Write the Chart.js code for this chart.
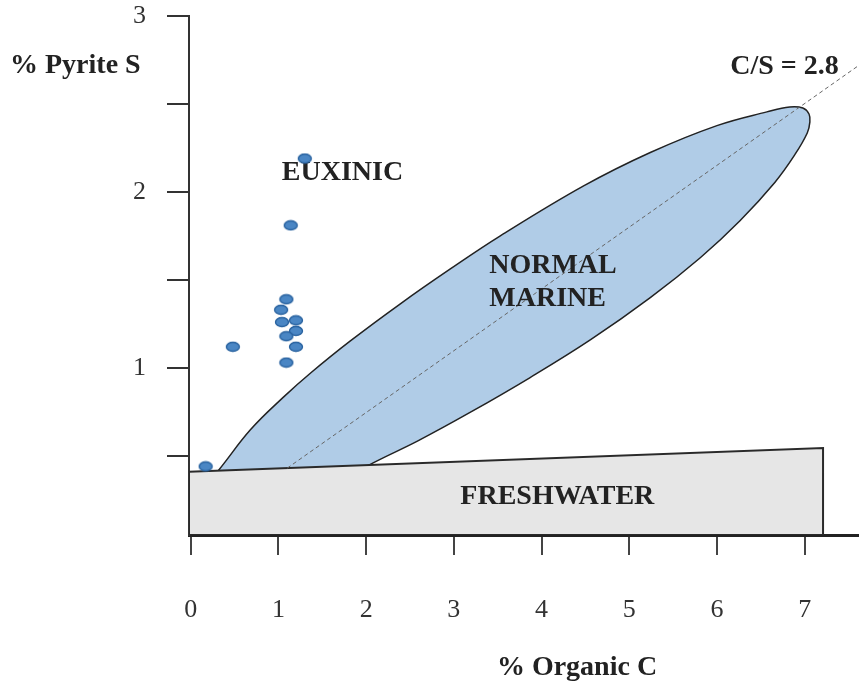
<!DOCTYPE html>
<html>
<head>
<meta charset="utf-8">
<script src="https://cdn.jsdelivr.net/npm/chart.js@4"></script>
<style>
html, body { margin: 0; padding: 0; background: #fff; }
#wrap { width: 859px; height: 694px; }
</style>
</head>
<body>
<div id="wrap"><canvas id="chart"></canvas></div>
<script>
// tick values and labels
var xTicks = [0, 1, 2, 3, 4, 5, 6, 7];
var yTicks = [0.5, 1, 1.5, 2, 2.5, 3];
var yLabels = ['', '1', '', '2', '', '3'];

// samples (% organic C, % pyrite S)
var sampleC = [1.30, 1.14, 1.09, 1.03, 1.04, 1.20, 1.20, 1.09, 1.20, 0.48, 1.09, 0.17];
var sampleS = [2.19, 1.81, 1.39, 1.33, 1.26, 1.27, 1.21, 1.18, 1.12, 1.12, 1.03, 0.44];

// normal marine field outline (lower part hidden under freshwater field)
var marineC = [1.2, 0.11, 0.32, 0.68, 1.06, 1.37, 1.82, 2.39, 2.96, 3.53, 4.48, 5.24, 6.00, 6.57, 6.83, 6.98, 7.05, 7.06, 7.03, 6.89, 6.66, 6.26, 5.81, 5.24, 4.56, 3.87, 3.19, 2.59, 2.08, 1.74, 1.2];
var marineS = [0.2, 0.30, 0.42, 0.648, 0.835, 0.972, 1.153, 1.364, 1.562, 1.75, 2.034, 2.224, 2.377, 2.455, 2.483, 2.477, 2.443, 2.398, 2.335, 2.213, 2.054, 1.835, 1.626, 1.399, 1.16, 0.945, 0.748, 0.585, 0.46, 0.364, 0.2];

// freshwater field
var freshC = [-0.02, 7.21, 7.21, -0.02, -0.02];
var freshS = [0.41, 0.545, 0.05, 0.05, 0.41];

// C/S = 2.8 line
var ratioC = [1.1, 7.62];
var ratioS = [0.43, 2.72];

// region labels
var regionNames = ['EUXINIC', 'NORMAL', 'MARINE', 'FRESHWATER', 'C/S = 2.8'];
var regionC = [1.73, 4.13, 4.07, 4.18, 6.77];
var regionS = [2.11, 1.58, 1.39, 0.27, 2.71];

function pts(xs, ys) {
    return xs.map(function (v, i) { return { x: v, y: ys[i] }; });
}

function dot() {
    var c = document.createElement('canvas');
    c.width = 16; c.height = 12;
    var g = c.getContext('2d');
    g.beginPath();
    g.ellipse(8, 6, 6.5, 4.5, 0, 0, Math.PI * 2);
    g.fillStyle = '#4a86c4';
    g.fill();
    g.lineWidth = 1.4;
    g.strokeStyle = '#2a63a0';
    g.stroke();
    return c;
}

var serif = '"Liberation Serif", "Times New Roman", serif';

var labelsPlugin = {
    id: 'regionLabels',
    afterDatasetDraw: function (chart, args) {
        if (args.index !== 1) return;
        var ctx = chart.ctx, xs = chart.scales.x, ys = chart.scales.y;
        ctx.save();
        ctx.font = 'bold 28px ' + serif;
        ctx.fillStyle = '#222';
        ctx.textAlign = 'center';
        ctx.textBaseline = 'middle';
        regionNames.forEach(function (t, i) {
            ctx.fillText(t, xs.getPixelForValue(regionC[i]), ys.getPixelForValue(regionS[i]));
        });
        ctx.restore();
    },
    afterDraw: function (chart) {
        var ctx = chart.ctx;
        ctx.save();
        ctx.font = 'bold 28px ' + serif;
        ctx.fillStyle = '#222';
        ctx.textBaseline = 'middle';
        ctx.textAlign = 'left';
        ctx.fillText('% Pyrite S', 10, 66);
        ctx.textAlign = 'center';
        ctx.fillText('% Organic C', 577, 668);
        ctx.restore();
    }
};

var ctx = document.getElementById('chart').getContext('2d');
var chart = new Chart(ctx, {
    type: 'scatter',
    data: {
        datasets: [{
            label: 'samples',
            data: pts(sampleC, sampleS),
            pointStyle: dot(),
            order: 0
        }, {
            type: 'line',
            label: 'C/S = 2.8',
            data: pts(ratioC, ratioS),
            borderColor: '#666',
            borderWidth: 1,
            borderDash: [4, 3],
            pointRadius: 0,
            fill: false,
            order: 1
        }, {
            type: 'line',
            label: 'freshwater',
            data: pts(freshC, freshS),
            borderColor: '#2a2a2a',
            borderWidth: 2,
            backgroundColor: '#e6e6e6',
            pointRadius: 0,
            tension: 0,
            fill: 'shape',
            order: 2
        }, {
            type: 'line',
            label: 'normal marine',
            data: pts(marineC, marineS),
            borderColor: '#222',
            borderWidth: 1.5,
            backgroundColor: '#b0cce7',
            pointRadius: 0,
            tension: 0.4,
            fill: 'shape',
            order: 3
        }]
    },
    options: {
        responsive: true,
        maintainAspectRatio: false,
        animation: false,
        layout: { autoPadding: false, padding: { top: 16, right: 0, bottom: 0, left: 0 } },
        plugins: {
            legend: { display: false },
            tooltip: { enabled: false }
        },
        scales: {
            x: {
                type: 'linear',
                min: -0.02,
                max: 7.62,
                afterBuildTicks: function (scale) {
                    scale.ticks = xTicks.map(function (v) { return { value: v }; });
                },
                afterFit: function (scale) {
                    scale.height = 159;
                    scale.paddingLeft = 0;
                    scale.paddingRight = 0;
                },
                grid: { drawOnChartArea: false, drawTicks: true, tickLength: 20, color: '#444', lineWidth: 2 },
                border: { color: '#222', width: 3 },
                ticks: {
                    font: { family: serif, size: 26 },
                    color: '#333',
                    padding: 40,
                    maxRotation: 0
                }
            },
            y: {
                type: 'linear',
                min: 0.05,
                max: 3,
                afterBuildTicks: function (scale) {
                    scale.ticks = yTicks.map(function (v) { return { value: v }; });
                },
                afterFit: function (scale) {
                    scale.width = 189;
                    scale.paddingTop = 0;
                    scale.paddingBottom = 0;
                },
                grid: { drawOnChartArea: false, drawTicks: true, tickLength: 22, color: '#333', lineWidth: 2 },
                border: { color: '#333', width: 2 },
                ticks: {
                    font: { family: serif, size: 26 },
                    color: '#333',
                    padding: 21,
                    callback: function (v) {
                        var i = yTicks.indexOf(v);
                        return i >= 0 ? yLabels[i] : '';
                    }
                }
            }
        }
    },
    plugins: [labelsPlugin]
});
</script>
</body>
</html>
